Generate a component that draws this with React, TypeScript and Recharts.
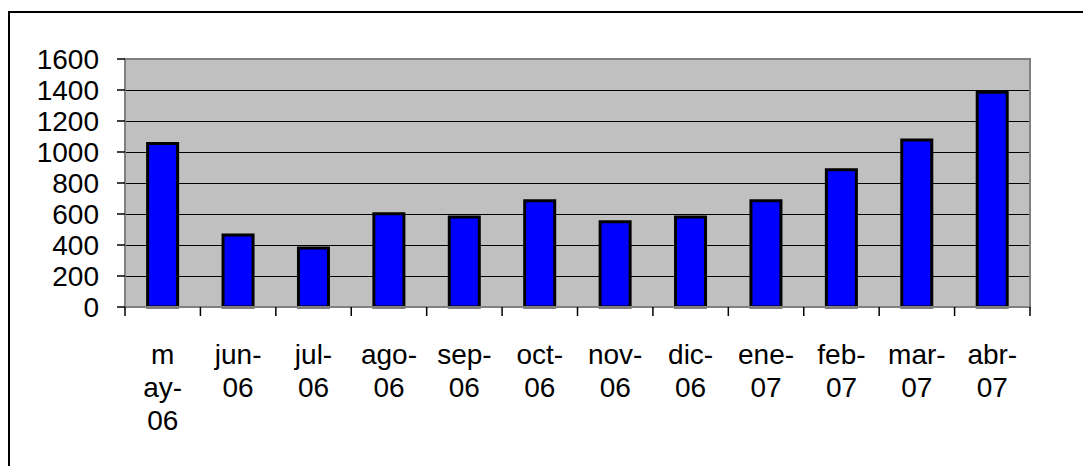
import React from 'react';
import { BarChart, Bar, XAxis, YAxis, CartesianGrid, ReferenceArea } from 'recharts';

const months = ['may-06', 'jun-06', 'jul-06', 'ago-06', 'sep-06', 'oct-06', 'nov-06', 'dic-06', 'ene-07', 'feb-07', 'mar-07', 'abr-07'];
const values = [1055, 465, 380, 602, 580, 685, 550, 580, 685, 885, 1078, 1385];
// how the labels wrap in the original picture
const monthLabelLines = [
  ['m', 'ay-', '06'], ['jun-', '06'], ['jul-', '06'], ['ago-', '06'], ['sep-', '06'], ['oct-', '06'],
  ['nov-', '06'], ['dic-', '06'], ['ene-', '07'], ['feb-', '07'], ['mar-', '07'], ['abr-', '07'],
];
const yTicks = [0, 200, 400, 600, 800, 1000, 1200, 1400, 1600];

const data = months.map((m, i) => ({ month: m, value: values[i] }));

const W = 1083;
const H = 466;
const PLOT_LEFT = 125;
const PLOT_RIGHT = 1030;
const BAND = (PLOT_RIGHT - PLOT_LEFT) / months.length;
const FONT = '"Liberation Sans", Arial, sans-serif';

function MonthTick(props: any) {
  const { x, y, index } = props;
  const lines = monthLabelLines[index] || [];
  const last = index === months.length - 1;
  return (
    <g>
      <line x1={x - BAND / 2} y1={y} x2={x - BAND / 2} y2={y + 9} stroke="#000" strokeWidth={1.5} />
      {last && <line x1={x + BAND / 2} y1={y} x2={x + BAND / 2} y2={y + 9} stroke="#000" strokeWidth={1.5} />}
      <text textAnchor="middle" fontSize={28} fontFamily={FONT} fill="#000">
        {lines.map((l, i) => (
          <tspan key={i} x={x} y={y + 57 + 33 * i}>{l}</tspan>
        ))}
      </text>
    </g>
  );
}

export default function App() {
  return (
    <div style={{ position: 'absolute', left: 0, top: 0, width: W, height: H, background: '#fff', overflow: 'hidden' }}>
      <div style={{ position: 'absolute', left: 8, top: 11, right: -4, bottom: -4, borderLeft: '2px solid #000', borderTop: '2px solid #000' }} />
      <div style={{ position: 'absolute', left: 0, top: 0 }}>
        <BarChart
          width={W}
          height={H}
          data={data}
          margin={{ top: 59, right: W - PLOT_RIGHT, bottom: 29, left: 45 }}
          barCategoryGap="30%"
        >
          <CartesianGrid vertical={false} stroke="#000" strokeWidth={1} shapeRendering="crispEdges" fill="#C0C0C0" fillOpacity={1} />
          <XAxis
            dataKey="month"
            height={130}
            interval={0}
            tickSize={0}
            tickMargin={0}
            tickLine={false}
            axisLine={{ stroke: '#808080', strokeWidth: 2 }}
            tick={<MonthTick />}
          />
          <YAxis
            width={80}
            domain={[0, 1600]}
            ticks={yTicks}
            interval={0}
            tickSize={8}
            tickMargin={18}
            tickLine={{ stroke: '#000', strokeWidth: 1.5 }}
            axisLine={{ stroke: '#808080', strokeWidth: 2 }}
            tick={{ fontSize: 28, fontFamily: FONT, fill: '#000' }}
          />
          <Bar dataKey="value" fill="#0000FF" stroke="#000" strokeWidth={3} isAnimationActive={false} />
          <ReferenceArea y1={0} y2={1600} fill="none" stroke="#808080" strokeWidth={2} ifOverflow="visible" />
        </BarChart>
      </div>
    </div>
  );
}
